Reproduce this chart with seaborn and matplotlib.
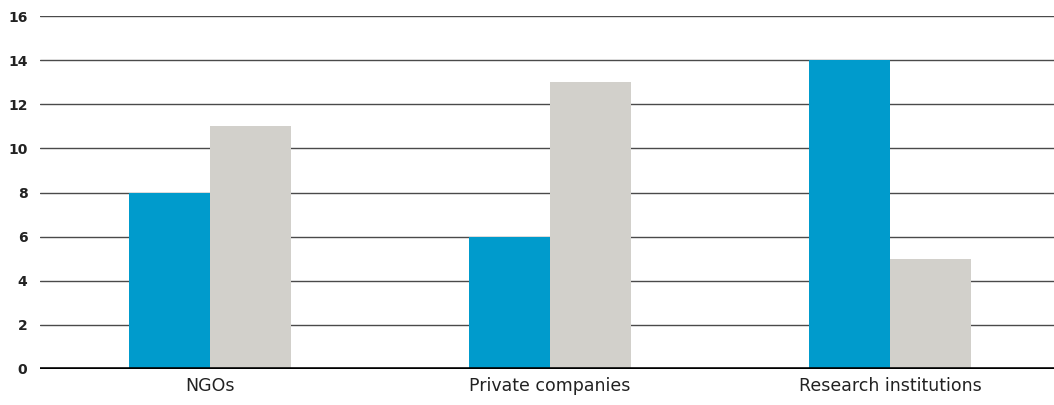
import matplotlib
matplotlib.use("Agg")
import matplotlib.pyplot as plt
import seaborn as sns
import pandas as pd

categories = ["NGOs", "Private companies", "Research institutions"]
series_names = ["Series 1", "Series 2"]
series_1 = [8, 6, 14]
series_2 = [11, 13, 5]
y_ticks = [0, 2, 4, 6, 8, 10, 12, 14, 16]

colors = ["#009BCC", "#D2D0CB"]

df = pd.DataFrame({
    "category": categories * 2,
    "series": [series_names[0]] * 3 + [series_names[1]] * 3,
    "value": series_1 + series_2,
})

sns.set_style("white")
plt.rcParams["font.family"] = ["DejaVu Sans"]

fig = plt.figure(figsize=(10.54, 4.05), dpi=100)
ax = fig.add_axes([40 / 1054, 36 / 405, 1014 / 1054, 353 / 405])

sns.barplot(data=df, x="category", y="value", hue="series",
            palette=colors, width=0.476, gap=0, saturation=1,
            edgecolor="none", linewidth=0, legend=False, ax=ax)

# horizontal gridlines behind the bars, heavy baseline on top
ax.set_axisbelow(True)
ax.yaxis.grid(True, color="#4a4a4a", linewidth=1.0)
ax.xaxis.grid(False)
ax.axhline(0, color="black", linewidth=2.6, zorder=4)

ax.set_xlim(-0.5, 2.482)
ax.set_ylim(0, 16)
ax.set_yticks(y_ticks)
ax.set_yticklabels([str(t) for t in y_ticks], fontsize=10, fontweight="bold",
                   color="#222222")
ax.tick_params(axis="y", length=0, pad=9)
ax.tick_params(axis="x", length=0, pad=6, labelsize=12.5, labelcolor="#222222")
ax.set_xlabel("")
ax.set_ylabel("")
for s in ax.spines.values():
    s.set_visible(False)

fig.savefig("out.png", dpi=100)
